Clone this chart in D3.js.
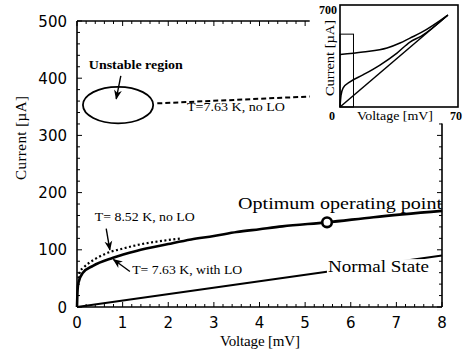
<!DOCTYPE html>
<html><head><meta charset="utf-8">
<script src="https://cdn.jsdelivr.net/npm/d3@7"></script>
<style>body{margin:0;background:#fff}svg{display:block}</style>
</head><body>
<svg id="c" width="463" height="357"></svg>
<script>
// ---- data ----
const xTicks = [0,1,2,3,4,5,6,7,8];
const yTicks = [0,100,200,300,400,500];
// T=7.63 K with LO (solid)
const withLOV = [0, 0.01, 0.03, 0.13, 0.35, 0.79, 1.3, 2.0, 2.5, 3.0, 3.5, 4.0, 4.5, 5.48, 6.5, 8];
const withLOI = [0, 25, 42, 60, 72, 86, 98, 110, 118, 124, 131, 136, 141, 148, 157, 168];
// T=8.52 K no LO (dotted)
const hotV = [0.03, 0.07, 0.13, 0.4, 0.72, 1.0, 1.3, 1.9, 2.3];
const hotI = [50, 63, 68, 84, 96, 102, 108, 116, 120];
// normal state
const normalV = [0, 8];
const normalI = [0, 90];
// T=7.63 K no LO (dashed, off-scale)
const noLOV = [1.76, 5.1];
const noLOI = [356, 368];
// optimum operating point
const optV = [5.48], optI = [148];
// unstable region ellipse bounds
const unstableV = [0.13, 1.67], unstableI = [321, 385];
// inset data (0-70 mV, 0-700 uA)
const insetUpperV = [0, 13.6, 27.9, 35.6, 41.5, 48, 64];
const insetUpperI = [360, 378, 405, 439, 473, 510, 631];
const insetMidV = [0, 0.6, 1.8, 5.9, 13.6, 23.7, 33.8, 41.5, 48, 64];
const insetMidI = [0, 80, 130, 172, 220, 288, 370, 446, 485, 631];
const insetNormV = [0, 64];
const insetNormI = [0, 631];
const zoomBoxV = [0, 8], zoomBoxI = [0, 500];

// ---- scales ----
const svg = d3.select('#c');
const x = d3.scaleLinear().domain([0,8]).range([77,442]);
const y = d3.scaleLinear().domain([0,500]).range([307,21]);
const xi = d3.scaleLinear().domain([0,70]).range([340,458]);
const yi = d3.scaleLinear().domain([0,700]).range([107,5]);
const serif = "'Liberation Serif', 'DejaVu Serif', serif";
const sans = "'DejaVu Sans', sans-serif";

svg.append('defs').append('marker').attr('id','ah').attr('viewBox','0 0 10 10')
  .attr('refX',9).attr('refY',5).attr('markerWidth',7).attr('markerHeight',7)
  .attr('orient','auto').append('path').attr('d','M0,1 L10,5 L0,9 L3,5 Z').attr('fill','#000');

const g = svg.append('g');
// left axis
g.append('line').attr('x1',x(0)).attr('x2',x(0)).attr('y1',y(0)).attr('y2',y(500)).attr('stroke','#000').attr('stroke-width',1.6);
// bottom axis
g.append('line').attr('x1',x(0)).attr('x2',x(8)).attr('y1',y(0)).attr('y2',y(0)).attr('stroke','#000').attr('stroke-width',1.6);
// top axis (partial)
const topEnd = 5.1;
g.append('line').attr('x1',x(0)).attr('x2',x(topEnd)).attr('y1',y(500)).attr('y2',y(500)).attr('stroke','#000').attr('stroke-width',1.6);
// right axis (partial)
const rightTop = 321;
g.append('line').attr('x1',x(8)).attr('x2',x(8)).attr('y1',y(0)).attr('y2',y(rightTop)).attr('stroke','#000').attr('stroke-width',1.6);

// ticks
const minorX = d3.range(0, 8.001, 0.2);
minorX.forEach(v => {
  const major = Math.abs(v - Math.round(v)) < 1e-6;
  const L = major ? 5 : 3;
  g.append('line').attr('x1',x(v)).attr('x2',x(v)).attr('y1',y(0)).attr('y2',y(0)-L).attr('stroke','#000').attr('stroke-width',1);
  if (v <= topEnd) g.append('line').attr('x1',x(v)).attr('x2',x(v)).attr('y1',y(500)).attr('y2',y(500)+L).attr('stroke','#000').attr('stroke-width',1);
});
const minorY = d3.range(0, 500.01, 20);
minorY.forEach(v => {
  const major = v % 100 === 0;
  const L = major ? 5 : 3;
  g.append('line').attr('x1',x(0)).attr('x2',x(0)+L).attr('y1',y(v)).attr('y2',y(v)).attr('stroke','#000').attr('stroke-width',1);
  if (v <= rightTop) g.append('line').attr('x1',x(8)).attr('x2',x(8)-L).attr('y1',y(v)).attr('y2',y(v)).attr('stroke','#000').attr('stroke-width',1);
});
// tick labels
g.selectAll('.xl').data(xTicks).enter().append('text').attr('x',d=>x(d)).attr('y',328)
  .attr('text-anchor','middle').attr('font-family',sans).attr('font-size',15).text(d=>d);
g.selectAll('.yl').data(yTicks).enter().append('text').attr('x',67).attr('y',d=>y(d)+5.5)
  .attr('text-anchor','end').attr('font-family',sans).attr('font-size',15).text(d=>d);
// axis titles
g.append('text').attr('x',260).attr('y',346).attr('text-anchor','middle').attr('font-family',serif)
  .attr('font-size',15).attr('textLength',80).text('Voltage  [mV]');
g.append('text').attr('transform','translate(26,138) rotate(-90)').attr('text-anchor','middle')
  .attr('font-family',serif).attr('font-size',15).attr('textLength',84).text('Current [µA]');

// curves
const zip = (a,b) => a.map((v,i)=>[v,b[i]]);
const line = d3.line().x(d=>x(d[0])).y(d=>y(d[1])).curve(d3.curveMonotoneX);
g.append('path').attr('d', d3.line().x(d=>x(d[0])).y(d=>y(d[1]))(zip(normalV,normalI)))
  .attr('fill','none').attr('stroke','#000').attr('stroke-width',2);
g.append('path').attr('d', line(zip(hotV,hotI))).attr('fill','none').attr('stroke','#000')
  .attr('stroke-width',2.2).attr('stroke-dasharray','2,2.5');
g.append('path').attr('d', d3.line().x(d=>x(d[0])).y(d=>y(d[1])).curve(d3.curveMonotoneX)(zip(withLOV,withLOI)))
  .attr('fill','none').attr('stroke','#000').attr('stroke-width',2.6);
g.append('path').attr('d', d3.line().x(d=>x(d[0])).y(d=>y(d[1]))(zip(noLOV,noLOI)))
  .attr('fill','none').attr('stroke','#000').attr('stroke-width',2).attr('stroke-dasharray','5,3');
// optimum point
g.selectAll('.opt').data(zip(optV,optI)).enter().append('circle').attr('cx',d=>x(d[0])).attr('cy',d=>y(d[1]))
  .attr('r',4.8).attr('fill','#fff').attr('stroke','#000').attr('stroke-width',2.6);
// unstable ellipse
g.append('ellipse').attr('cx',(x(unstableV[0])+x(unstableV[1]))/2).attr('cy',(y(unstableI[0])+y(unstableI[1]))/2)
  .attr('rx',(x(unstableV[1])-x(unstableV[0]))/2).attr('ry',(y(unstableI[0])-y(unstableI[1]))/2)
  .attr('fill','none').attr('stroke','#000').attr('stroke-width',1.8);

// annotations
function label(v,i,txt,size,len,anchor){
  return g.append('text').attr('x',x(v)).attr('y',y(i)).attr('font-family',serif).attr('font-size',size)
    .attr('text-anchor',anchor||'start').attr('textLength',len).attr('lengthAdjust','spacingAndGlyphs').text(txt);
}
function arrow(v1,i1,v2,i2){
  g.append('line').attr('x1',x(v1)).attr('y1',y(i1)).attr('x2',x(v2)).attr('y2',y(i2))
    .attr('stroke','#000').attr('stroke-width',1.4).attr('marker-end','url(#ah)');
}
label(1.29,416,'Unstable region',12.5,94,'middle').attr('font-weight','bold');
arrow(0.96,404,0.86,364);
label(2.41,343,'T=7.63 K, no LO',12,98);
label(0.39,151,'T= 8.52 K, no LO',12.5,100);
arrow(0.64,137,0.72,100);
label(1.21,57,'T= 7.63 K, with LO',12.5,110);
arrow(1.16,62,0.8,83);
// normal state label with white background
const ns = label(5.5,61,'Normal State',17,101);
const bb = ns.node().getBBox();
g.insert('rect', function(){return ns.node();}).attr('x',bb.x-1).attr('y',bb.y+2).attr('width',bb.width+4).attr('height',bb.height-3).attr('fill','#fff');
label(3.53,172,'Optimum operating point',17,204);

// ---- inset ----
const ig = svg.append('g');
ig.append('rect').attr('x',xi(0)).attr('y',yi(700)).attr('width',xi(70)-xi(0)).attr('height',yi(0)-yi(700))
  .attr('fill','#fff').attr('stroke','#000').attr('stroke-width',1.6);
ig.append('rect').attr('x',xi(zoomBoxV[0])).attr('y',yi(zoomBoxI[1])).attr('width',xi(zoomBoxV[1])-xi(zoomBoxV[0]))
  .attr('height',yi(zoomBoxI[0])-yi(zoomBoxI[1])).attr('fill','none').attr('stroke','#000').attr('stroke-width',1);
const il = d3.line().x(d=>xi(d[0])).y(d=>yi(d[1])).curve(d3.curveMonotoneX);
[[insetUpperV,insetUpperI],[insetMidV,insetMidI],[insetNormV,insetNormI]].forEach(([a,b])=>{
  ig.append('path').attr('d',il(zip(a,b))).attr('fill','none').attr('stroke','#000').attr('stroke-width',1.5);
});
ig.append('text').attr('x',337).attr('y',14).attr('text-anchor','end').attr('font-family',serif).attr('font-size',12).attr('font-weight','bold').text('700');
ig.append('text').attr('x',332).attr('y',120).attr('text-anchor','middle').attr('font-family',serif).attr('font-size',12).attr('font-weight','bold').text('0');
ig.append('text').attr('x',462).attr('y',120).attr('text-anchor','end').attr('font-family',serif).attr('font-size',12).attr('font-weight','bold').text('70');
ig.append('text').attr('x',395).attr('y',120).attr('text-anchor','middle').attr('font-family',serif).attr('font-size',11.5)
  .attr('textLength',76).attr('lengthAdjust','spacingAndGlyphs').text('Voltage  [mV]');
ig.append('text').attr('transform','translate(334,58) rotate(-90)').attr('text-anchor','middle').attr('font-family',serif)
  .attr('font-size',11.5).attr('textLength',76).attr('lengthAdjust','spacingAndGlyphs').text('Current  [µA]');
</script>
</body></html>
